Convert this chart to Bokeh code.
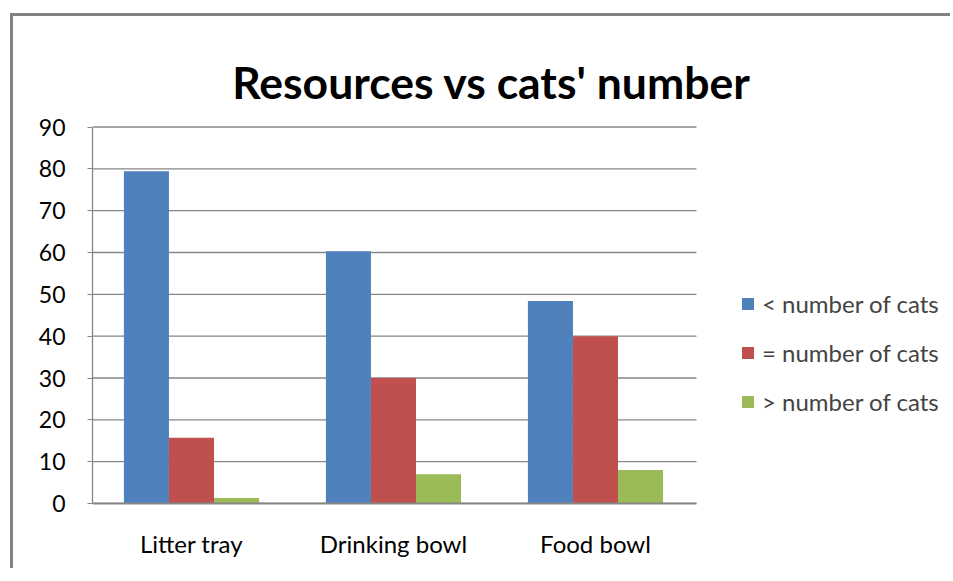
from bokeh.plotting import figure
from bokeh.models import (ColumnDataSource, Legend, LegendItem, Label,
                          Range1d, FixedTicker)
from bokeh.transform import dodge
from bokeh.embed import file_html
from bokeh.resources import INLINE

# ---- data ----
categories = ["Litter tray", "Drinking bowl", "Food bowl"]
series_names = ["< number of cats", "= number of cats", "> number of cats"]
less_than = [79.4, 60.3, 48.4]
equal_to = [15.7, 30.0, 40.0]
more_than = [1.3, 7.0, 8.0]
y_ticks = [0, 10, 20, 30, 40, 50, 60, 70, 80, 90]
title_text = "Resources vs cats' number"

colors = ["#4F81BD", "#C0504D", "#9BBB59"]
GRID = "#868686"
FONT = "Lato"

# ---- layout constants (pixels, canvas origin is offset by the css border) ----
W, H = 940, 555
LEFT, BOTTOM = 79, 68          # frame left / bottom borders
CAT_PX = 202.0                 # width of one category slot
FRAME_W = W - LEFT
FRAME_H = H - BOTTOM
Y_TOP_PX = 110.5               # distance from frame top to the highest tick
SHIFT = 0.01                   # small horizontal nudge of the categories
y_max = y_ticks[-1]
px_per_unit = (FRAME_H - Y_TOP_PX) / y_max
n = len(categories)
x_lo = -0.5 + SHIFT
x_end = x_lo + FRAME_W / CAT_PX
x_cat_end = -0.5 + n
y_end = FRAME_H / px_per_unit
xs = list(range(n))

source = ColumnDataSource(dict(x=xs, s0=less_than, s1=equal_to, s2=more_than))

p = figure(width=W, height=H, output_backend="svg", toolbar_location=None,
           x_range=Range1d(x_lo, x_end), y_range=Range1d(0, y_end),
           min_border_left=LEFT, min_border_right=0, min_border_top=0, min_border_bottom=BOTTOM)
p.styles = {"margin-left": "10px", "margin-top": "13px",
            "border-left": "3px solid #828282", "border-top": "3px solid #828282"}
p.outline_line_color = None
p.background_fill_color = "white"
p.border_fill_color = "white"
p.xgrid.grid_line_color = None
p.ygrid.grid_line_color = None

# horizontal gridlines restricted to the category area
p.segment(x0=[x_lo] * len(y_ticks), x1=[x_cat_end] * len(y_ticks), y0=y_ticks, y1=y_ticks,
          line_color=GRID, line_width=1.3)

bw = 0.223
renderers = []
for i, key in enumerate(["s0", "s1", "s2"]):
    r = p.vbar(x=dodge("x", (i - 1) * bw), top=key, width=bw,
               source=source, fill_color=colors[i], line_color=None)
    renderers.append(r)

# y axis
p.yaxis.ticker = FixedTicker(ticks=y_ticks)
p.yaxis.bounds = (0, y_max)
p.yaxis.axis_line_color = GRID
p.yaxis.axis_line_width = 1.3
p.yaxis.major_tick_line_color = GRID
p.yaxis.major_tick_out = 5
p.yaxis.major_tick_in = 0
p.yaxis.minor_tick_line_color = None
p.yaxis.major_label_standoff = 22
p.yaxis.major_label_text_font = FONT
p.yaxis.major_label_text_font_size = "23px"
p.yaxis.major_label_text_color = "#000000"

# x axis
p.xaxis.ticker = FixedTicker(ticks=xs)
p.xaxis.major_label_overrides = {i: c for i, c in enumerate(categories)}
p.xaxis.bounds = (x_lo, x_cat_end)
p.xaxis.axis_line_color = GRID
p.xaxis.axis_line_width = 2
p.xaxis.major_tick_line_color = None
p.xaxis.minor_tick_line_color = None
p.xaxis.major_label_standoff = 19
p.xaxis.major_label_text_font = FONT
p.xaxis.major_label_text_font_size = "24px"
p.xaxis.major_label_text_color = "#000000"

# legend (inside the frame, to the right of the categories)
legend = Legend(items=[LegendItem(label=series_names[i], renderers=[renderers[i]]) for i in range(3)],
                location=(648, 97 - (78 - BOTTOM)), glyph_width=15, glyph_height=15, label_standoff=7,
                label_text_font=FONT, label_text_font_size="24px", spacing=20,
                border_line_color=None, background_fill_alpha=0, padding=0, margin=0)
p.add_layout(legend)

# chart title
TITLE_CX_PX = 491 - 13 - LEFT   # title centre, measured from frame left
TITLE_BASE_PX = 503.5 - 81      # title baseline, measured from frame bottom
p.add_layout(Label(x=x_lo + TITLE_CX_PX / CAT_PX, y=TITLE_BASE_PX / px_per_unit,
                   text=title_text, text_font=FONT, text_font_style="bold",
                   text_font_size="44.5px", text_align="center", text_baseline="alphabetic",
                   text_color="#000000"))

open("out.html", "w").write(file_html(p, INLINE))
